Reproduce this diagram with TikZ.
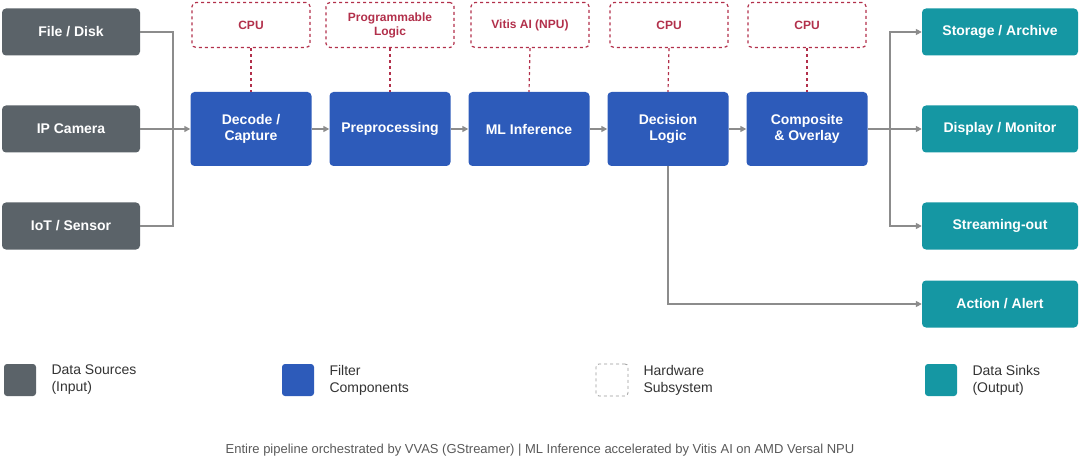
\documentclass[tikz,border=0pt]{standalone}
\usepackage{fontspec}
\setmainfont{Liberation Sans}
\usetikzlibrary{arrows.meta}
\definecolor{srcgray}{HTML}{5B6369}
\definecolor{filtblue}{HTML}{2D5BBA}
\definecolor{sinkteal}{HTML}{1597A3}
\definecolor{hwred}{HTML}{B2304B}
\definecolor{wiregray}{HTML}{8C8C8C}
\begin{document}
\begin{tikzpicture}[x=1pt,y=-1pt,
    box/.style={rounded corners=4pt, text=white, font=\bfseries\fontsize{14}{16}\selectfont, align=center, inner sep=0pt},
    src/.style={box, fill=srcgray, minimum width=138pt, minimum height=47pt},
    filt/.style={box, fill=filtblue, minimum width=121pt, minimum height=74pt},
    sink/.style={box, fill=sinkteal, minimum width=156pt, minimum height=47pt},
    hw/.style={rounded corners=4pt, draw=hwred, dashed, line width=1.2pt, text=hwred, font=\bfseries\fontsize{12}{14}\selectfont, align=center, minimum width=118pt, minimum height=45pt, inner sep=0pt},
    hwlink/.style={draw=hwred, dashed, line width=1.2pt},
    wire/.style={draw=wiregray, line width=1.5pt},
    flow/.style={wire, -{Triangle[length=6pt,width=6pt]}},
    legtext/.style={anchor=west, align=left, font=\fontsize{14}{17}\selectfont, text=black!80}]
    \useasboundingbox (0,0) rectangle (1080,468);

    % --- sources ---
    \node[src] (file) at (71,32) {File / Disk};
    \node[src] (cam) at (71,129) {IP Camera};
    \node[src] (iot) at (71,226) {IoT / Sensor};

    % --- filters ---
    \node[filt] (decode) at (251,129) {Decode /\\Capture};
    \node[filt] (prep) at (390,129) {Preprocessing};
    \node[filt] (ml) at (529,129) {ML Inference};
    \node[filt] (dec) at (668,129) {Decision\\Logic};
    \node[filt] (comp) at (807,129) {Composite\\\& Overlay};

    % --- hardware ---
    \node[hw] (hw1) at (251,25) {CPU};
    \node[hw, minimum width=128pt] (hw2) at (390,25) {Programmable\\Logic};
    \node[hw] (hw3) at (530,25) {Vitis AI (NPU)};
    \node[hw] (hw4) at (669,25) {CPU};
    \node[hw] (hw5) at (807,25) {CPU};
    \foreach \h/\f in {hw1/decode,hw2/prep,hw3/ml,hw4/dec,hw5/comp}
        \draw[hwlink] (\h.south) -- (\f.north);

    % --- sinks ---
    \node[sink] (store) at (1000,32) {Storage / Archive};
    \node[sink] (disp) at (1000,129) {Display / Monitor};
    \node[sink] (stream) at (1000,226) {Streaming-out};
    \node[sink] (alert) at (1000,304) {Action / Alert};

    % --- connectors ---
    \coordinate (inbus) at (173,129);
    \coordinate (outbus) at (890,129);
    \draw[wire] (file.east) -| (inbus);
    \draw[wire] (iot.east) -| (inbus);
    \draw[wire] (cam.east) -- (inbus);
    \draw[flow] (inbus) -- (decode.west);
    \draw[flow] (decode) -- (prep);
    \draw[flow] (prep) -- (ml);
    \draw[flow] (ml) -- (dec);
    \draw[flow] (dec) -- (comp);
    \draw[wire] (comp.east) -- (outbus);
    \draw[flow] (outbus) |- (store.west);
    \draw[flow] (outbus) -- (disp.west);
    \draw[flow] (outbus) |- (stream.west);
    \draw[flow] (dec.south) |- (alert.west);

    % --- legend ---
    \node[rounded corners=3pt, fill=srcgray, minimum size=32pt, inner sep=0pt] (lg1) at (20,380) {};
    \node[legtext] at (48,380) {Data Sources\\(Input)};
    \node[rounded corners=3pt, fill=filtblue, minimum size=32pt, inner sep=0pt] (lg2) at (298,380) {};
    \node[legtext] at (326,380) {Filter\\Components};
    \node[rounded corners=3pt, draw=black!40, dashed, line width=0.8pt, minimum size=32pt, inner sep=0pt] (lg3) at (612,380) {};
    \node[legtext] at (640,380) {Hardware\\Subsystem};
    \node[rounded corners=3pt, fill=sinkteal, minimum size=32pt, inner sep=0pt] (lg4) at (941,380) {};
    \node[legtext] at (969,380) {Data Sinks\\(Output)};

    \node[font=\fontsize{13}{15}\selectfont, text=black!65] (foot) at (540,450) {Entire pipeline orchestrated by VVAS (GStreamer) | ML Inference accelerated by Vitis AI on AMD Versal NPU};
\end{tikzpicture}
\end{document}
